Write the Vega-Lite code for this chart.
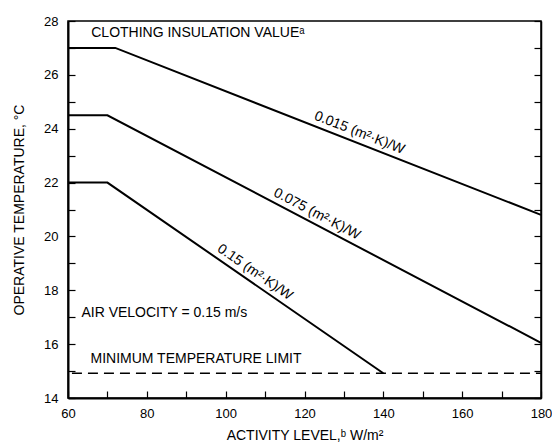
{
  "$schema": "https://vega.github.io/schema/vega-lite/v6.json",
  "width": 473,
  "height": 377,
  "autosize": {"type": "none"},
  "padding": {"left": 68, "top": 21, "right": 11, "bottom": 50},
  "background": "white",
  "config": {
    "font": "Liberation Sans",
    "view": {"stroke": "#000", "strokeWidth": 1.5},
    "axis": {
      "labelFont": "Liberation Sans",
      "labelFontSize": 13,
      "labelColor": "#000",
      "titleFont": "Liberation Sans",
      "titleFontSize": 14,
      "titleFontWeight": "normal",
      "titleColor": "#000",
      "domainColor": "#000",
      "tickColor": "#000",
      "grid": false
    },
    "text": {"font": "Liberation Sans", "fontSize": 14, "color": "#000"}
  },
  "datasets": {
    "curves": [
      {"x": 60, "y": 27, "clo": "0.015"},
      {"x": 72, "y": 27, "clo": "0.015"},
      {"x": 180, "y": 20.8, "clo": "0.015"},
      {"x": 60, "y": 24.5, "clo": "0.075"},
      {"x": 70, "y": 24.5, "clo": "0.075"},
      {"x": 180, "y": 16.05, "clo": "0.075"},
      {"x": 60, "y": 22, "clo": "0.15"},
      {"x": 70, "y": 22, "clo": "0.15"},
      {"x": 140, "y": 14.92, "clo": "0.15"}
    ],
    "limit": [
      {"x": 61, "y": 14.92},
      {"x": 180, "y": 14.92}
    ],
    "notes": [
      {"x": 65.9, "y": 27.54, "label": "CLOTHING INSULATION VALUEᵃ"},
      {"x": 63.4, "y": 17.14, "label": "AIR VELOCITY = 0.15 m/s"},
      {"x": 65.7, "y": 15.43, "label": "MINIMUM TEMPERATURE LIMIT"}
    ],
    "curveLabels": [
      {"x": 133, "y": 23.5, "clo": "0.015", "label": "0.015 (m²·K)/W"},
      {"x": 122, "y": 20.5, "clo": "0.075", "label": "0.075 (m²·K)/W"},
      {"x": 106, "y": 18.36, "clo": "0.15", "label": "0.15 (m²·K)/W"}
    ]
  },
  "encoding": {
    "x": {
      "field": "x", "type": "quantitative",
      "scale": {"domain": [60, 180], "nice": false, "zero": false},
      "axis": {
        "title": "ACTIVITY LEVEL,ᵇ W/m²",
        "values": [60, 70, 80, 90, 100, 110, 120, 130, 140, 150, 160, 170, 180],
        "labelExpr": "datum.value % 20 == 0 ? datum.label : ''",
        "tickSize": -7,
        "tickWidth": 1.2,
        "labelPadding": 16,
        "domainWidth": 2,
        "titlePadding": 8,
        "labelFlush": false
      }
    }
  },
  "layer": [
    {
      "data": {"name": "curves"},
      "mark": {"type": "line", "color": "#000", "strokeWidth": 2},
      "encoding": {
        "y": {
          "field": "y", "type": "quantitative",
          "scale": {"domain": [14, 28], "nice": false, "zero": false},
          "axis": {
            "title": "OPERATIVE TEMPERATURE, °C",
            "values": [14, 15, 16, 17, 18, 19, 20, 21, 22, 23, 24, 25, 26, 27, 28],
            "labelExpr": "datum.value % 2 == 0 ? datum.label : ''",
            "tickSize": -7,
            "tickWidth": 1.2,
            "labelPadding": 17,
            "domainWidth": 2,
            "titlePadding": 17,
            "labelFlush": false
          }
        },
        "detail": {"field": "clo", "type": "nominal"}
      }
    },
    {
      "data": {"name": "limit"},
      "mark": {"type": "line", "color": "#000", "strokeWidth": 1.5, "strokeDash": [10, 6]},
      "encoding": {
        "y": {
          "field": "y", "type": "quantitative",
          "axis": {
            "orient": "right",
            "title": null,
            "labels": false,
            "values": [14, 15, 16, 17, 18, 19, 20, 21, 22, 23, 24, 25, 26, 27, 28],
            "tickSize": -7,
            "tickWidth": 1.2,
            "domainWidth": 1.5
          }
        }
      }
    },
    {
      "data": {"name": "notes"},
      "mark": {"type": "text", "align": "left", "baseline": "middle", "fontSize": 14},
      "encoding": {
        "y": {"field": "y", "type": "quantitative", "axis": null},
        "text": {"field": "label"}
      }
    },
    {
      "data": {"name": "curveLabels"},
      "transform": [{"filter": "datum.clo == '0.015'"}],
      "mark": {"type": "text", "align": "center", "baseline": "alphabetic", "angle": 21.4, "dy": -6, "fontSize": 14},
      "encoding": {
        "y": {"field": "y", "type": "quantitative", "axis": null},
        "text": {"field": "label"}
      }
    },
    {
      "data": {"name": "curveLabels"},
      "transform": [{"filter": "datum.clo == '0.075'"}],
      "mark": {"type": "text", "align": "center", "baseline": "alphabetic", "angle": 27.7, "dy": -6, "fontSize": 14},
      "encoding": {
        "y": {"field": "y", "type": "quantitative", "axis": null},
        "text": {"field": "label"}
      }
    },
    {
      "data": {"name": "curveLabels"},
      "transform": [{"filter": "datum.clo == '0.15'"}],
      "mark": {"type": "text", "align": "center", "baseline": "alphabetic", "angle": 34.6, "dy": -6, "fontSize": 14},
      "encoding": {
        "y": {"field": "y", "type": "quantitative", "axis": null},
        "text": {"field": "label"}
      }
    }
  ],
  "resolve": {"axis": {"y": "independent"}}
}
